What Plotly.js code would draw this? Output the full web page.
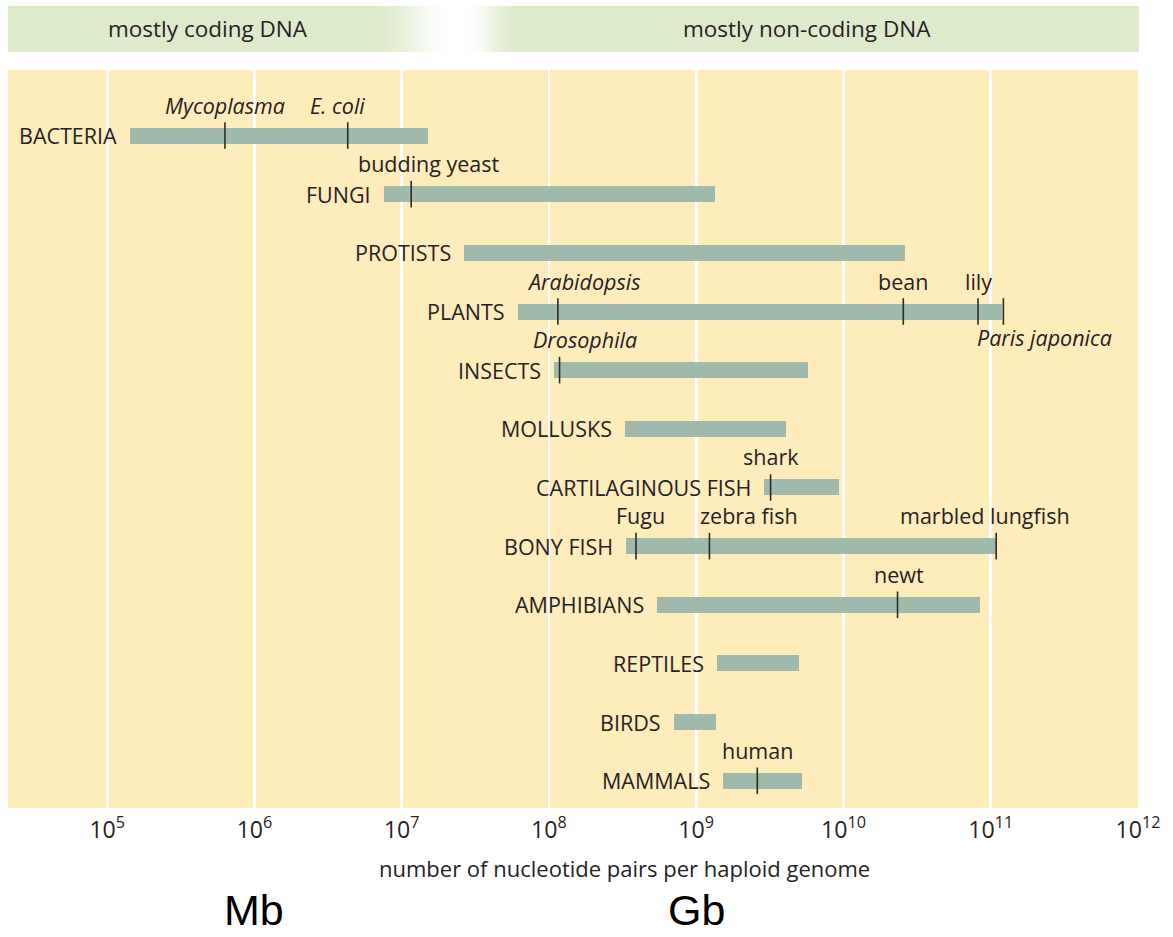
<!DOCTYPE html>
<html>
<head>
<meta charset="utf-8">
<script src="https://cdn.plot.ly/plotly-3.0.1.min.js"></script>
<style>html,body{margin:0;padding:0;background:#fff;}#chart{width:1173px;height:937px;}</style>
</head>
<body>
<div id="chart"></div>
<script>
// ---- data ----
const categories = ['BACTERIA','FUNGI','PROTISTS','PLANTS','INSECTS','MOLLUSKS','CARTILAGINOUS FISH','BONY FISH','AMPHIBIANS','REPTILES','BIRDS','MAMMALS'];
const minSize = [1.42e5, 7.6e6, 2.65e7, 6.2e7, 1.08e8, 3.3e8, 2.9e9, 3.33e8, 5.4e8, 1.39e9, 7.1e8, 1.52e9];
const maxSize = [1.5e7, 1.34e9, 2.6e10, 1.2e11, 5.7e9, 4.07e9, 9.4e9, 1.09e11, 8.4e10, 5.0e9, 1.36e9, 5.2e9];

const noteNames  = ['Mycoplasma','E. coli','budding yeast','Arabidopsis','bean','lily','Paris japonica','Drosophila','shark','Fugu','zebra fish','marbled lungfish','newt','human'];
const noteGroups = ['BACTERIA','BACTERIA','FUNGI','PLANTS','PLANTS','PLANTS','PLANTS','INSECTS','CARTILAGINOUS FISH','BONY FISH','BONY FISH','BONY FISH','AMPHIBIANS','MAMMALS'];
const noteSizes  = [6.3e5, 4.3e6, 1.16e7, 1.15e8, 2.55e10, 8.2e10, 1.22e11, 1.18e8, 3.2e9, 3.9e8, 1.23e9, 1.09e11, 2.33e10, 2.6e9];
const noteItalic = [true,true,false,true,false,false,true,true,false,false,false,false,false,false];

const regionLabels = ['mostly coding DNA','mostly non-coding DNA'];
const unitLabels = ['Mb','Gb'];
const unitValues = [1e6, 1e9];
const xTitle = 'number of nucleotide pairs per haploid genome';

// ---- label placement tweaks (layout only) ----
const noteShift = [0,-10,18,26,0,0,41,25,0,5,40,-11,1,0];
const noteBelow = [false,false,false,false,false,false,true,false,false,false,false,false,false,false];

// ---- styles ----
const FONT = 'Open Sans, Noto Sans, sans-serif';
const TXT = '#262324';
const CREAM = '#ffecbb';
const GREEN = [222,235,203];
const BAR = '#a0b9ad';
const FS = 21.5;

// pixel geometry of the page
const W = 1173, H = 937;
const L = 8, R = 35, T = 70, B = 129;
const PW = W - L - R, PH = H - T - B;
const px2paperX = p => (p - L) / PW;
const py2paperY = p => (H - B - p) / PH;

const traces = [
  {
    type: 'bar', orientation: 'h',
    y: categories,
    x: maxSize.map((v, i) => v - minSize[i]),
    base: minSize,
    width: 0.273,
    marker: {color: BAR, line: {width: 0}},
    hoverinfo: 'skip'
  },
  {
    type: 'scatter', mode: 'markers',
    x: noteSizes, y: noteGroups,
    marker: {symbol: 'line-ns', size: 19, line: {width: 1.6, color: '#2b2b2b'}},
    cliponaxis: false,
    hoverinfo: 'skip'
  }
];

const annotations = [];
categories.forEach((c, i) => {
  annotations.push({
    x: Math.log10(minSize[i]), y: c, xref: 'x', yref: 'y',
    text: c, showarrow: false, xanchor: 'right', yanchor: 'middle',
    xshift: -11, yshift: 0,
    font: {family: FONT, size: FS, color: TXT}
  });
});
noteNames.forEach((n, i) => {
  annotations.push({
    x: Math.log10(noteSizes[i]), y: noteGroups[i], xref: 'x', yref: 'y',
    text: noteItalic[i] ? '<i>' + n + '</i>' : n,
    showarrow: false, xanchor: 'center',
    yanchor: noteBelow[i] ? 'top' : 'bottom',
    xshift: noteShift[i], yshift: noteBelow[i] ? -9 : 14,
    font: {family: FONT, size: FS, color: TXT}
  });
});
const regionX = [207.6, 806.6];
regionLabels.forEach((t, i) => {
  annotations.push({
    x: px2paperX(regionX[i]), y: py2paperY(29), xref: 'paper', yref: 'paper',
    text: t, showarrow: false, xanchor: 'center', yanchor: 'middle',
    font: {family: FONT, size: 22.5, color: TXT}
  });
});
// axis title (placed off-centre as in the reference)
annotations.push({
  x: px2paperX(624), y: py2paperY(868), xref: 'paper', yref: 'paper',
  text: xTitle, showarrow: false, xanchor: 'center', yanchor: 'middle',
  font: {family: FONT, size: 22, color: TXT}
});
unitLabels.forEach((t, i) => {
  annotations.push({
    x: Math.log10(unitValues[i]), y: py2paperY(936), xref: 'x', yref: 'paper',
    text: t, showarrow: false, xanchor: 'center', yanchor: 'bottom',
    font: {family: 'Liberation Sans, Arial, sans-serif', size: 43, color: '#000'}
  });
});

// top band with white fade
const shapes = [];
const bandY0 = py2paperY(52), bandY1 = py2paperY(6);
const rgb = (c) => 'rgb(' + c.map(Math.round).join(',') + ')';
shapes.push({type: 'rect', xref: 'paper', yref: 'paper', x0: px2paperX(8), x1: px2paperX(1139),
  y0: bandY0, y1: bandY1, fillcolor: rgb(GREEN), line: {width: 0}, layer: 'below'});
function fadeAt(p) {
  // 1 = green, 0 = white
  if (p <= 377) return 1;
  if (p < 450) { const t = (p - 377) / 73; return 1 - (t * t * (3 - 2 * t)); }
  if (p <= 464) return 0;
  if (p < 517) { const t = (p - 464) / 53; return t * t * (3 - 2 * t); }
  return 1;
}
for (let p = 377; p < 517; p += 2) {
  const f = fadeAt(p + 1);
  const col = GREEN.map(c => 255 + (c - 255) * f);
  shapes.push({type: 'rect', xref: 'paper', yref: 'paper', x0: px2paperX(p), x1: px2paperX(p + 2.3),
    y0: bandY0, y1: bandY1, fillcolor: rgb(col), line: {width: 0}, layer: 'below'});
}

const layout = {
  width: W, height: H,
  margin: {l: L, r: R, t: T, b: B, pad: 0},
  paper_bgcolor: '#ffffff',
  plot_bgcolor: CREAM,
  showlegend: false,
  bargap: 0,
  xaxis: {
    type: 'log',
    range: [4.326, 12.0005],
    dtick: 1,
    exponentformat: 'power',
    showgrid: true, gridcolor: '#ffffff', gridwidth: 2.6,
    zeroline: false, showline: false, ticks: '',
    ticklabelstandoff: 6,
    tickfont: {family: FONT, size: 18.5, color: TXT},
    fixedrange: true
  },
  yaxis: {
    type: 'category',
    categoryorder: 'array', categoryarray: categories,
    range: [11.464, -1.117],
    showgrid: false, zeroline: false, showline: false, showticklabels: false, ticks: '',
    fixedrange: true
  },
  annotations: annotations,
  shapes: shapes
};

Plotly.newPlot('chart', traces, layout, {staticPlot: true, displayModeBar: false});
</script>
</body>
</html>
